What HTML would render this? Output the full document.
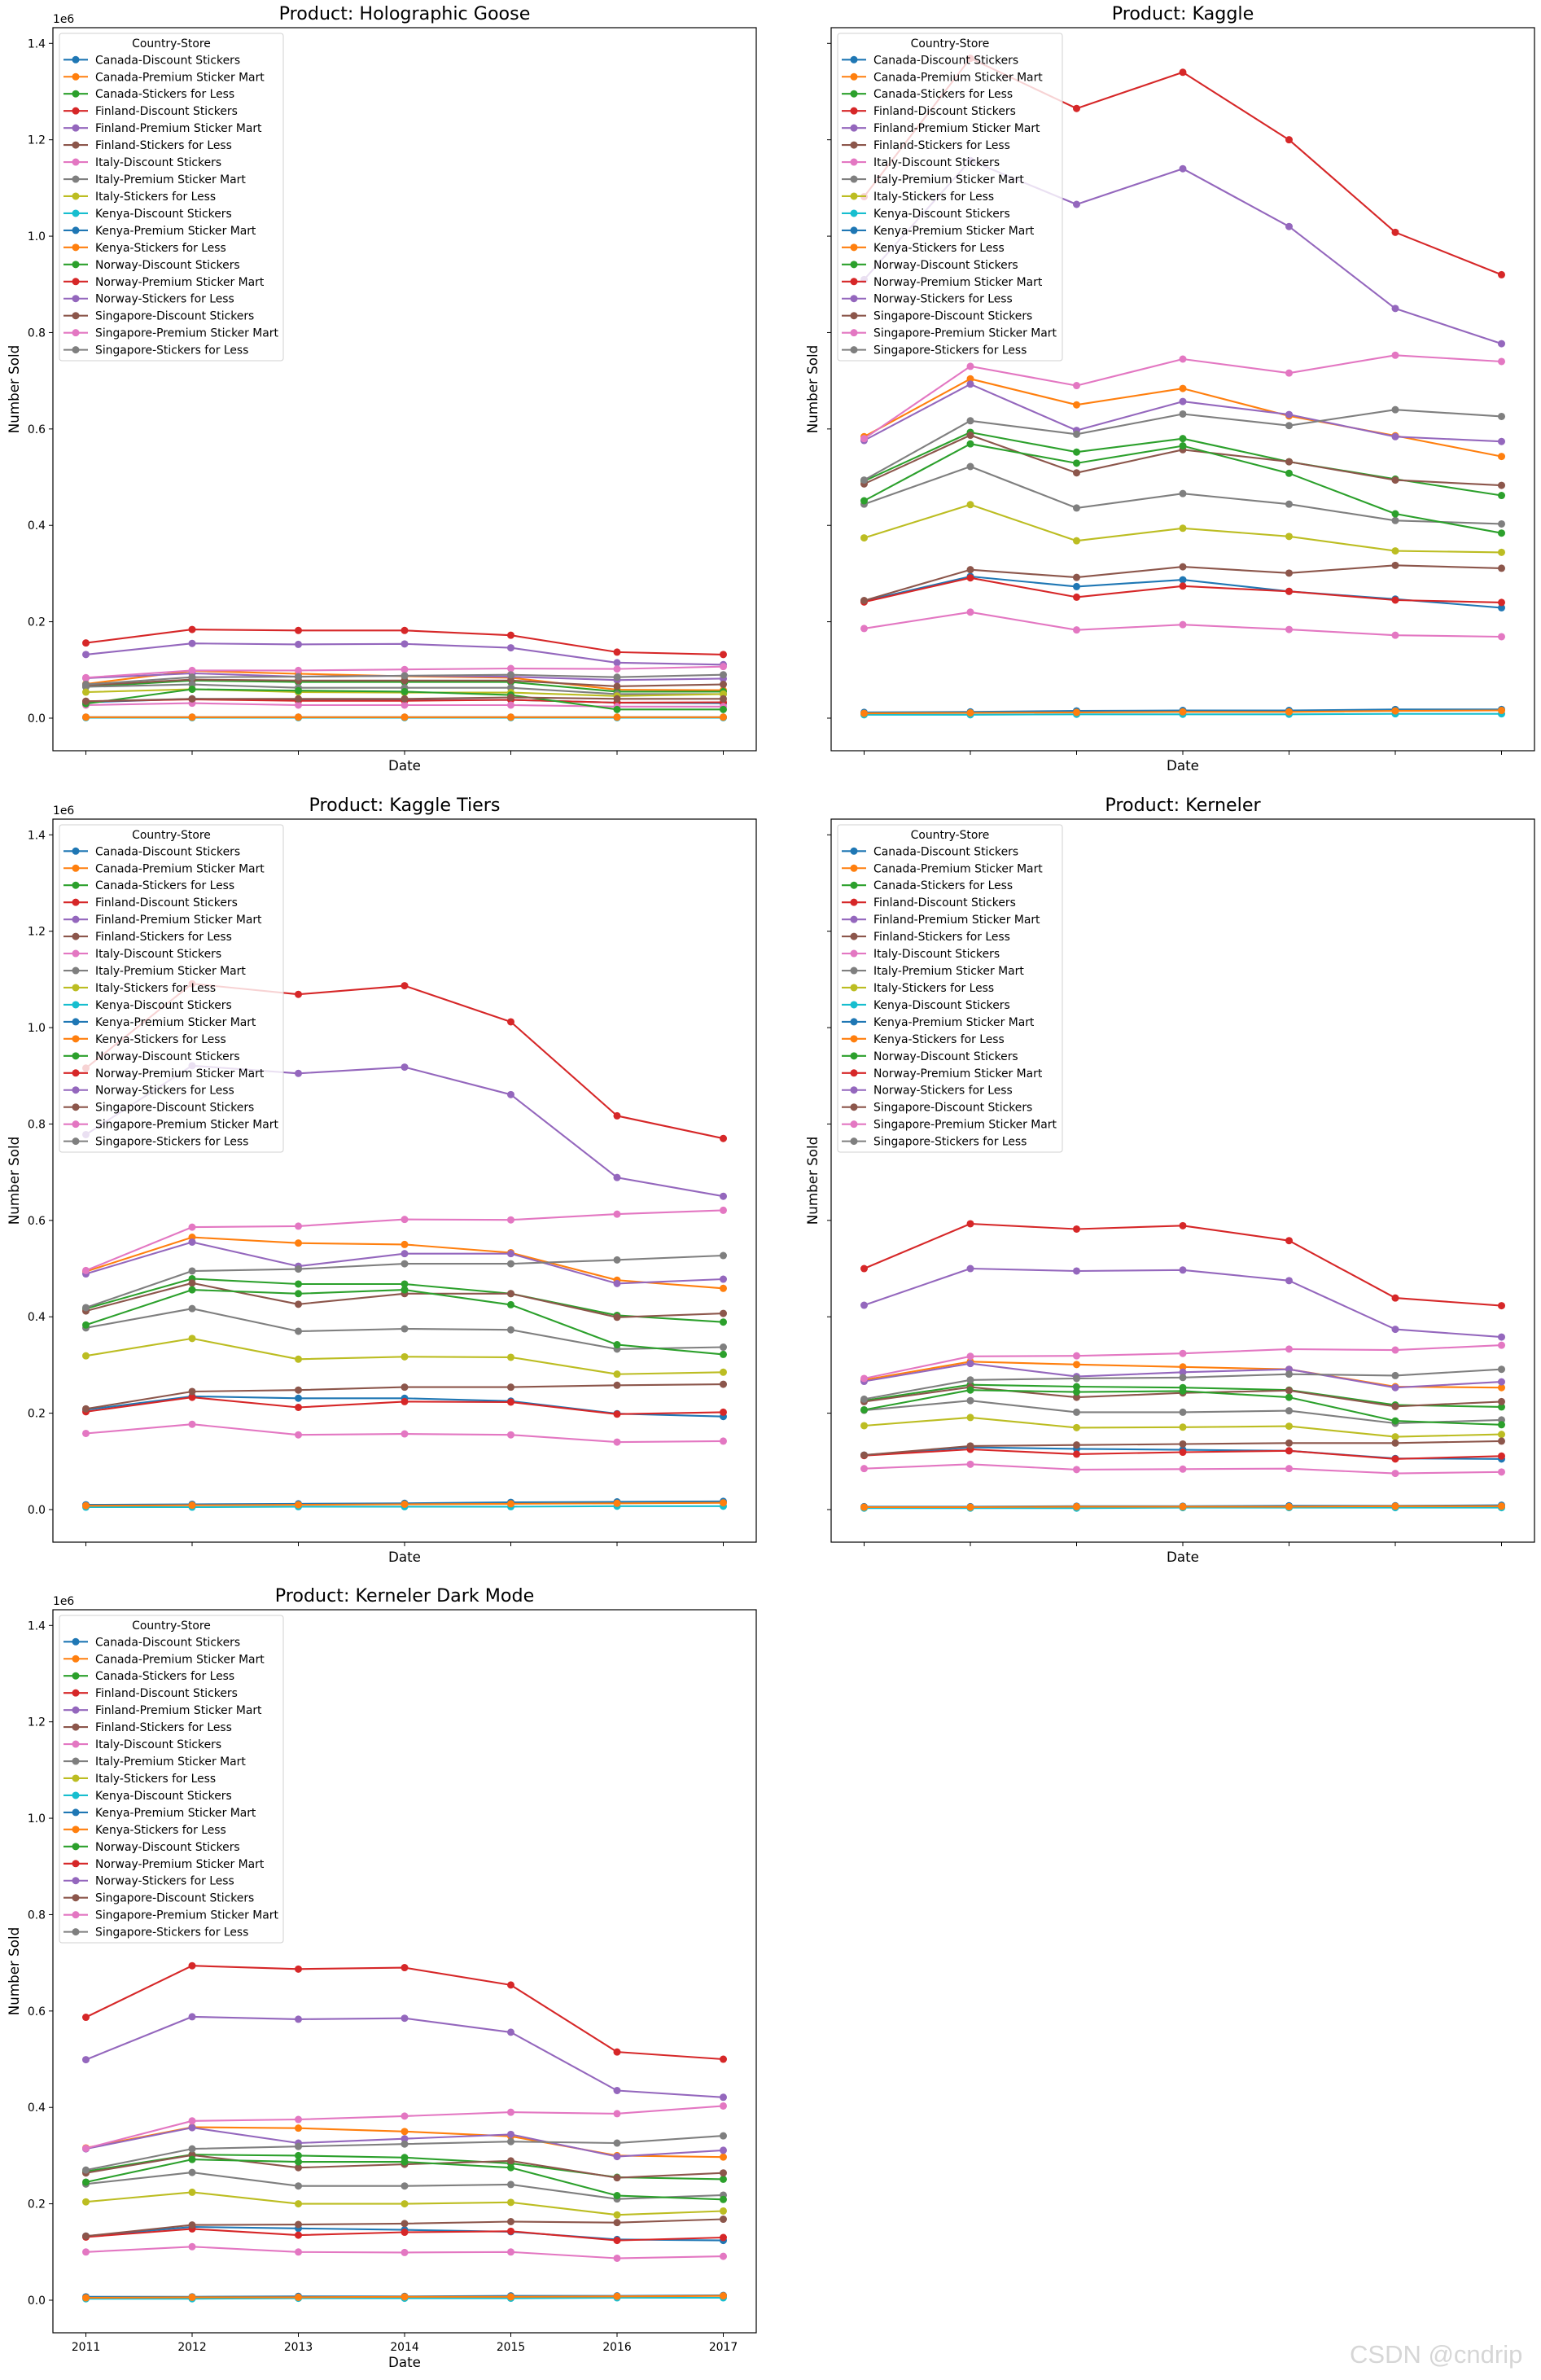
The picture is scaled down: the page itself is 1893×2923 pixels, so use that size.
<!DOCTYPE html>
<html><head><meta charset="utf-8"><title>Product sales by country-store</title>
<style>
html,body{margin:0;padding:0;background:#fff;}
svg{display:block;font-family:"DejaVu Sans","Liberation Sans",sans-serif;}
</style></head>
<body>
<svg id="fig" width="1893" height="2923" viewBox="0 0 1893 2923" xmlns="http://www.w3.org/2000/svg">
<rect x="0" y="0" width="1893" height="2923" fill="#fff"/>
<text x="1658" y="2902" font-family="Liberation Sans, sans-serif" font-size="31" fill="#d6d6d6">CSDN @cndrip</text>
</svg>
<script>
const years = [2011, 2012, 2013, 2014, 2015, 2016, 2017];
const yTicks = [0.0, 0.2, 0.4, 0.6, 0.8, 1.0, 1.2, 1.4];
const yTickLabels = ["0.0", "0.2", "0.4", "0.6", "0.8", "1.0", "1.2", "1.4"];
const seriesNames = ["Canada-Discount Stickers","Canada-Premium Sticker Mart","Canada-Stickers for Less","Finland-Discount Stickers","Finland-Premium Sticker Mart","Finland-Stickers for Less","Italy-Discount Stickers","Italy-Premium Sticker Mart","Italy-Stickers for Less","Kenya-Discount Stickers","Kenya-Premium Sticker Mart","Kenya-Stickers for Less","Norway-Discount Stickers","Norway-Premium Sticker Mart","Norway-Stickers for Less","Singapore-Discount Stickers","Singapore-Premium Sticker Mart","Singapore-Stickers for Less"];
const productNames = ["Holographic Goose","Kaggle","Kaggle Tiers","Kerneler","Kerneler Dark Mode"];
const holoValues = [
[0.033,0.040,0.037,0.037,0.038,0.032,0.031],
[0.071,0.098,0.092,0.087,0.084,0.059,0.058],
[0.065,0.078,0.075,0.075,0.075,0.055,0.055],
[0.035,0.039,0.036,0.036,0.038,0.032,0.033],
[0.083,0.093,0.086,0.088,0.086,0.079,0.082],
[0.068,0.080,0.078,0.078,0.078,0.066,0.070],
[0.027,0.031,0.027,0.027,0.027,0.024,0.024],
[0.065,0.070,0.063,0.063,0.063,0.050,0.050],
[0.054,0.060,0.054,0.053,0.053,0.046,0.050],
[0.001,0.001,0.001,0.001,0.001,0.001,0.001],
[0.002,0.002,0.002,0.002,0.002,0.002,0.002],
[0.002,0.002,0.002,0.002,0.002,0.002,0.002],
[0.030,0.060,0.057,0.055,0.048,0.018,0.018],
[0.156,0.184,0.182,0.182,0.172,0.137,0.132],
[0.132,0.155,0.153,0.154,0.146,0.115,0.111],
[0.035,0.040,0.040,0.040,0.043,0.040,0.040],
[0.084,0.099,0.099,0.101,0.103,0.102,0.107],
[0.070,0.085,0.086,0.088,0.090,0.085,0.090]];
const kaggleValues = [
[0.243,0.294,0.273,0.287,0.263,0.247,0.229],
[0.584,0.704,0.650,0.684,0.627,0.586,0.543],
[0.492,0.593,0.552,0.580,0.532,0.496,0.462],
[0.241,0.291,0.251,0.274,0.263,0.245,0.240],
[0.576,0.693,0.597,0.657,0.630,0.584,0.574],
[0.486,0.587,0.509,0.557,0.532,0.494,0.483],
[0.186,0.220,0.183,0.194,0.184,0.172,0.169],
[0.444,0.522,0.436,0.466,0.444,0.410,0.403],
[0.374,0.443,0.368,0.394,0.377,0.347,0.344],
[0.007,0.007,0.008,0.008,0.008,0.009,0.009],
[0.012,0.013,0.015,0.016,0.016,0.018,0.018],
[0.010,0.011,0.012,0.013,0.013,0.015,0.016],
[0.451,0.569,0.529,0.565,0.508,0.424,0.384],
[1.082,1.369,1.265,1.340,1.200,1.008,0.920],
[0.910,1.157,1.066,1.140,1.020,0.850,0.777],
[0.244,0.308,0.292,0.314,0.301,0.317,0.311],
[0.580,0.730,0.690,0.745,0.716,0.753,0.740],
[0.494,0.617,0.589,0.631,0.607,0.640,0.626]];
const tiersValues = [
[0.207,0.235,0.231,0.231,0.225,0.199,0.193],
[0.494,0.565,0.553,0.550,0.533,0.476,0.459],
[0.417,0.479,0.468,0.468,0.448,0.403,0.389],
[0.203,0.233,0.212,0.224,0.223,0.198,0.202],
[0.489,0.555,0.505,0.531,0.531,0.469,0.478],
[0.412,0.470,0.426,0.448,0.448,0.399,0.407],
[0.158,0.177,0.155,0.157,0.155,0.140,0.142],
[0.377,0.417,0.370,0.375,0.373,0.333,0.337],
[0.319,0.355,0.312,0.317,0.316,0.281,0.285],
[0.005,0.005,0.006,0.006,0.006,0.007,0.007],
[0.010,0.011,0.012,0.013,0.015,0.016,0.017],
[0.008,0.009,0.010,0.011,0.012,0.013,0.014],
[0.383,0.456,0.448,0.456,0.425,0.342,0.322],
[0.916,1.091,1.069,1.087,1.012,0.817,0.770],
[0.778,0.921,0.905,0.918,0.861,0.689,0.650],
[0.209,0.245,0.248,0.254,0.254,0.258,0.260],
[0.496,0.586,0.588,0.602,0.601,0.613,0.621],
[0.419,0.495,0.499,0.510,0.510,0.518,0.527]];
const kernelerValues = [
[0.113,0.129,0.126,0.124,0.122,0.106,0.105],
[0.269,0.307,0.301,0.296,0.291,0.255,0.253],
[0.226,0.259,0.255,0.253,0.248,0.217,0.213],
[0.112,0.125,0.115,0.119,0.122,0.105,0.111],
[0.266,0.303,0.276,0.285,0.291,0.253,0.265],
[0.224,0.254,0.233,0.242,0.247,0.214,0.224],
[0.085,0.094,0.083,0.084,0.085,0.075,0.078],
[0.206,0.226,0.202,0.202,0.205,0.179,0.186],
[0.174,0.191,0.170,0.171,0.173,0.151,0.156],
[0.003,0.003,0.003,0.004,0.004,0.004,0.004],
[0.006,0.006,0.007,0.007,0.008,0.008,0.009],
[0.005,0.005,0.006,0.006,0.006,0.007,0.007],
[0.207,0.248,0.244,0.246,0.233,0.184,0.176],
[0.500,0.593,0.582,0.589,0.558,0.439,0.423],
[0.424,0.500,0.495,0.497,0.475,0.374,0.358],
[0.113,0.132,0.134,0.136,0.138,0.138,0.142],
[0.272,0.318,0.319,0.324,0.333,0.331,0.341],
[0.229,0.269,0.272,0.274,0.281,0.278,0.291]];
const darkModeValues = [
[0.133,0.152,0.149,0.146,0.142,0.126,0.124],
[0.316,0.359,0.357,0.350,0.340,0.300,0.297],
[0.267,0.302,0.300,0.296,0.284,0.255,0.251],
[0.131,0.148,0.135,0.141,0.143,0.124,0.130],
[0.314,0.358,0.326,0.335,0.344,0.298,0.311],
[0.264,0.301,0.275,0.282,0.289,0.254,0.264],
[0.100,0.111,0.100,0.099,0.100,0.087,0.091],
[0.241,0.265,0.237,0.237,0.240,0.210,0.218],
[0.204,0.224,0.200,0.200,0.203,0.177,0.185],
[0.003,0.003,0.004,0.004,0.004,0.005,0.005],
[0.007,0.007,0.008,0.008,0.009,0.009,0.010],
[0.005,0.006,0.006,0.007,0.007,0.008,0.009],
[0.245,0.292,0.287,0.287,0.275,0.217,0.209],
[0.587,0.694,0.687,0.690,0.654,0.515,0.500],
[0.499,0.588,0.583,0.585,0.556,0.435,0.421],
[0.133,0.156,0.157,0.159,0.163,0.161,0.168],
[0.315,0.372,0.375,0.382,0.390,0.387,0.403],
[0.270,0.314,0.319,0.324,0.329,0.326,0.341]];

const allValues = [holoValues, kaggleValues, tiersValues, kernelerValues, darkModeValues];
const colors = ["#1f77b4","#ff7f0e","#2ca02c","#d62728","#9467bd","#8c564b","#e377c2","#7f7f7f","#bcbd22","#17becf"];
const NS = "http://www.w3.org/2000/svg";
const svg = document.getElementById('fig');
function mk(tag, attrs, parent){
  const e = document.createElementNS(NS, tag);
  for (const k in attrs) e.setAttribute(k, attrs[k]);
  (parent || svg).appendChild(e);
  return e;
}
const panels = [
  {left:65, top:34, showY:true, showX:false},
  {left:1021, top:34, showY:false, showX:false},
  {left:65, top:1006, showY:true, showX:false},
  {left:1021, top:1006, showY:false, showX:false},
  {left:65, top:1977, showY:true, showX:true}
];
const W = 864, H = 888;
const yMin = -0.0676, yMax = 1.4 + 0.0326;
panels.forEach((p, pi) => {
  const g = mk('g', {});
  
  
  const xScale = i => p.left + 40.5 + i * 130.5;
  const yScale = v => p.top + H - (v - yMin) / (yMax - yMin) * H;
  const t = mk('text', {x: p.left + W/2, y: p.top - 10, 'text-anchor':'middle', 'font-size':'22.2', fill:'#000'}, g);
  t.textContent = 'Product: ' + productNames[pi];
  
  
  yTicks.forEach((v, k) => {
    const y = yScale(v);
    mk('line', {x1:p.left-5, x2:p.left, y1:y, y2:y, stroke:'#000', 'stroke-width':1}, g);
    if (p.showY) {
      const tl = mk('text', {x:p.left-9, y:y+5, 'text-anchor':'end', 'font-size':'13.9', fill:'#000'}, g);
      tl.textContent = yTickLabels[k];
      
      
    }
  });
  if (p.showY) {
    const e6 = mk('text', {x:p.left, y:p.top-6, 'font-size':'13.9', fill:'#000'}, g);
    e6.textContent = '1e6';
    
    
  }
  years.forEach((yr, i) => {
    const x = xScale(i);
    mk('line', {x1:x, x2:x, y1:p.top+H, y2:p.top+H+5, stroke:'#000', 'stroke-width':1}, g);
    if (p.showX) {
      const tl = mk('text', {x:x, y:p.top+H+22, 'text-anchor':'middle', 'font-size':'13.9', fill:'#000'}, g);
      tl.textContent = String(yr);
      
      
    }
  });
  const xl = mk('text', {x:p.left+W/2, y:p.top+H+(p.showX?42:24), 'text-anchor':'middle', 'font-size':'16.7', fill:'#000'}, g);
  xl.textContent = 'Date';
  
  
  const ylx = p.showY ? p.left - 42 : p.left - 17;
  const yl = mk('text', {x:ylx, y:p.top+H/2, 'text-anchor':'middle', 'font-size':'16.7', fill:'#000', transform:'rotate(-90 '+ylx+' '+(p.top+H/2)+')'}, g);
  yl.textContent = 'Number Sold';
  
  
  const vals = allValues[pi];
  vals.forEach((arr, si) => {
    const c = colors[si % 10];
    const pts = arr.map((v, i) => xScale(i).toFixed(1) + ',' + yScale(v).toFixed(1)).join(' ');
    const sg = mk('g', {}, g);
    
    
    mk('polyline', {points:pts, fill:'none', stroke:c, 'stroke-width':2.1, 'stroke-linejoin':'round'}, sg);
    arr.forEach((v, i) => {
      const m = mk('circle', {cx:xScale(i), cy:yScale(v), r:4.5, fill:c}, sg);
      
      
    });
  });
  const fr = mk('rect', {x:p.left, y:p.top, width:W, height:H, fill:'none', stroke:'#000', 'stroke-width':1.2}, g);
  
  
  const lg = mk('g', {}, g);
  
  
  const lx = p.left + 8, ly = p.top + 7;
  const lw = pi % 2 === 0 ? 275 : 276;
  mk('rect', {x:lx, y:ly, width:lw, height:402, rx:3, fill:'#fff', 'fill-opacity':0.8, stroke:'#d0d0d0', 'stroke-width':1}, lg);
  const lt = mk('text', {x:lx+lw/2, y:ly+17, 'text-anchor':'middle', 'font-size':'13.9', fill:'#000'}, lg);
  lt.textContent = 'Country-Store';
  
  
  seriesNames.forEach((n, si) => {
    const c = colors[si % 10];
    const yy = ly + 32.3 + si * 20.96;
    const eg = mk('g', {}, lg);
    
    
    mk('line', {x1:lx+5, x2:lx+35, y1:yy, y2:yy, stroke:c, 'stroke-width':2.1}, eg);
    mk('circle', {cx:lx+20, cy:yy, r:4.5, fill:c}, eg);
    const et = mk('text', {x:lx+44, y:yy+5, 'font-size':'13.9', fill:'#000'}, eg);
    et.textContent = n;
  });
});
</script>
</body></html>
